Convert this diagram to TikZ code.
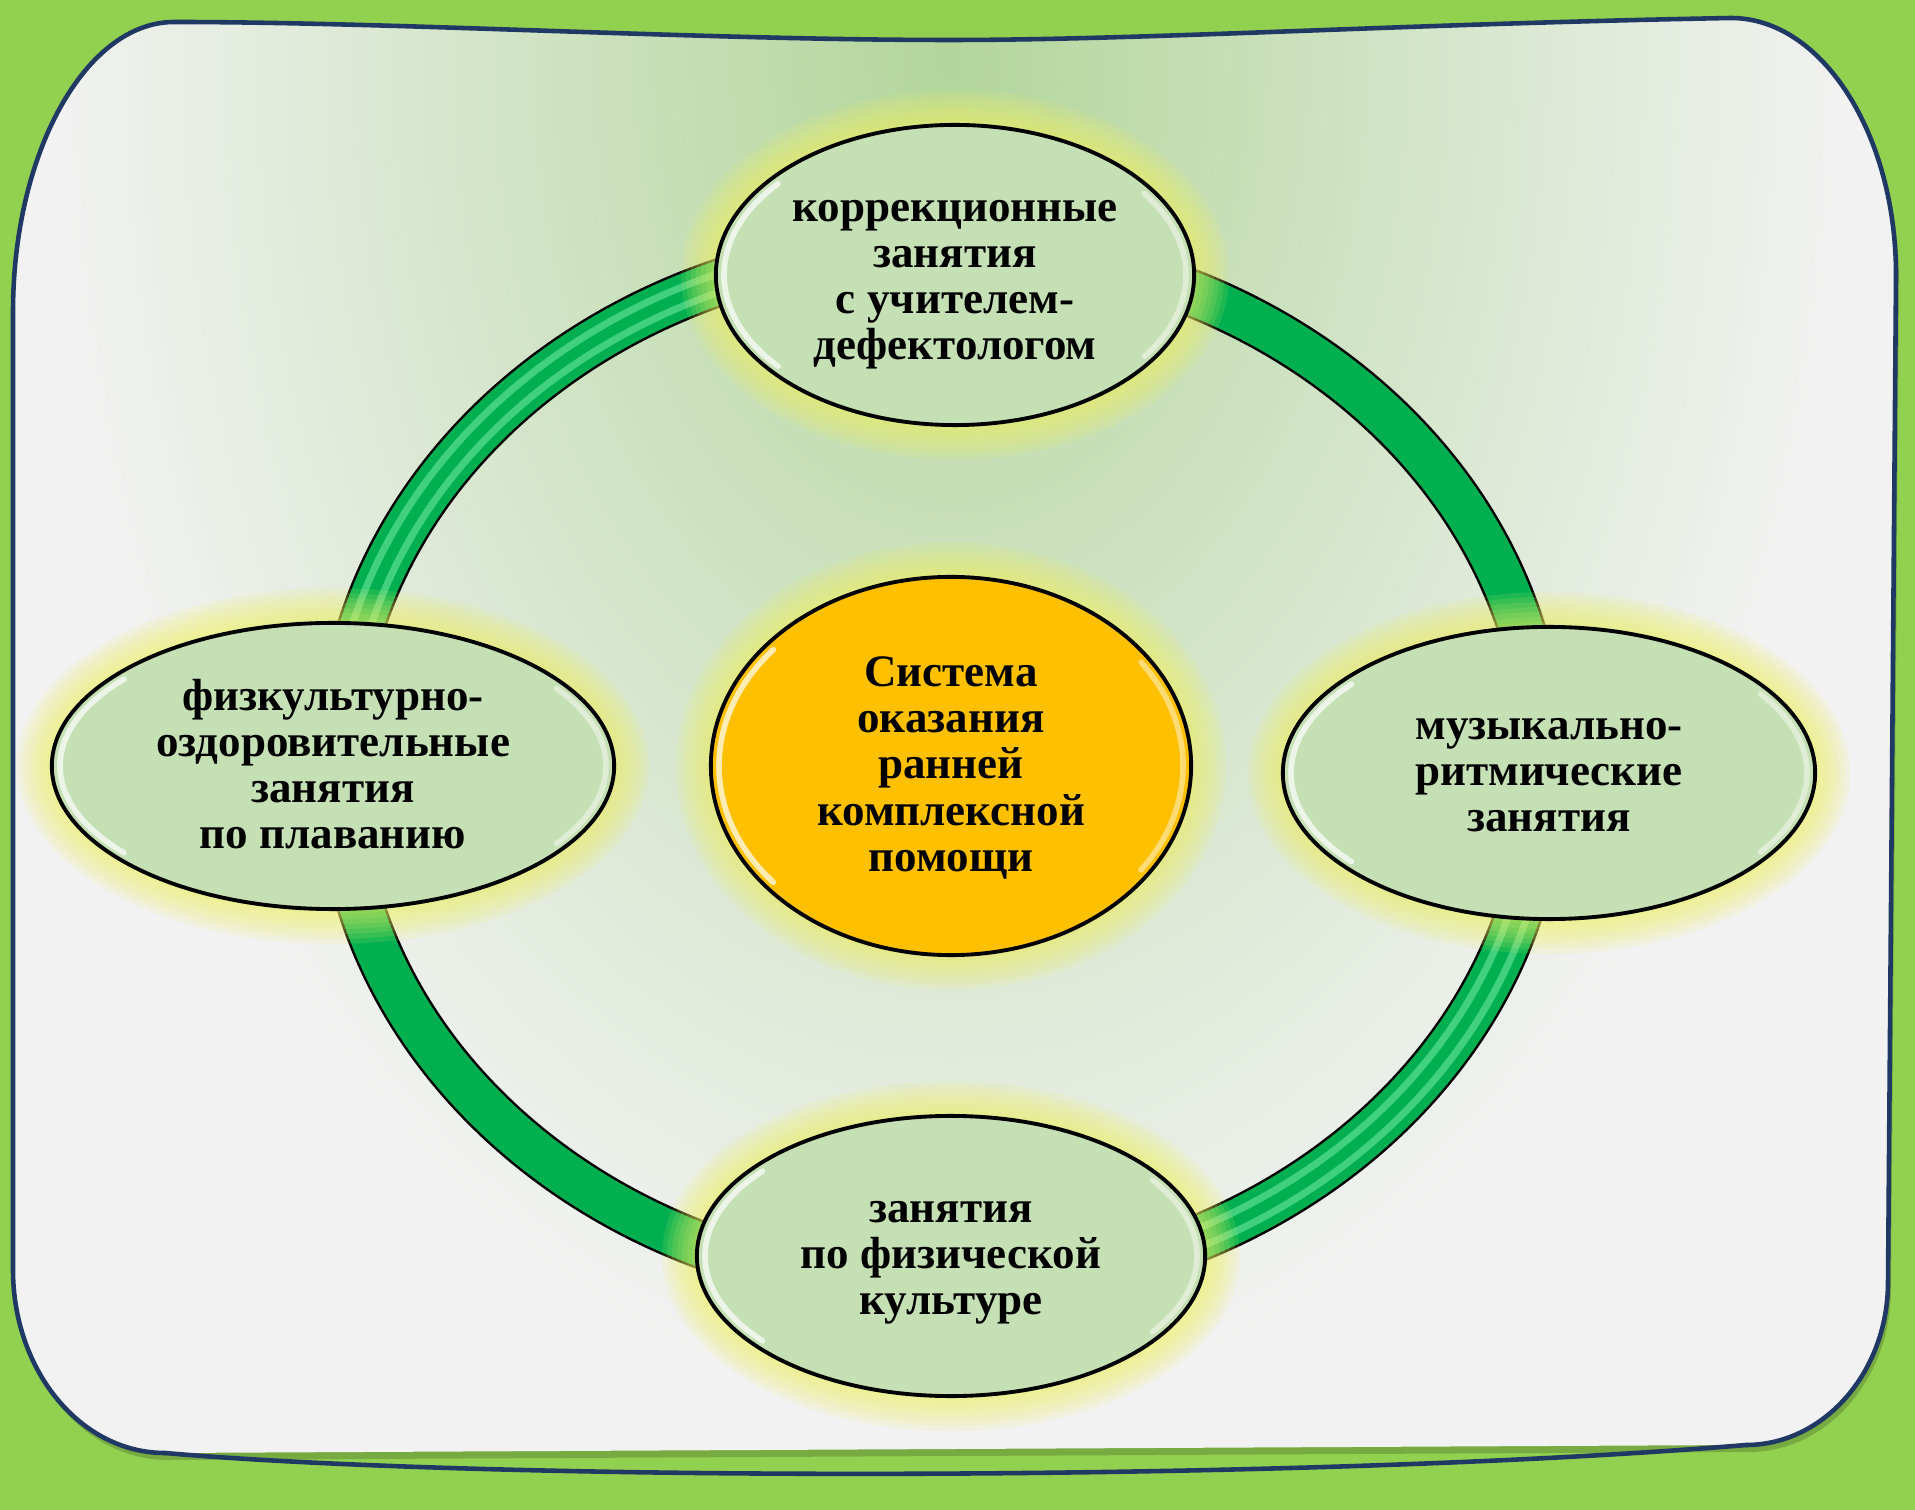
\documentclass[tikz,border=0pt]{standalone}
\usepackage{fontspec}
\setmainfont{Liberation Serif}
\usetikzlibrary{shapes.geometric}
\definecolor{bggreen}{RGB}{146,208,80}
\definecolor{framegreen}{RGB}{178,214,155}
\definecolor{framegray}{RGB}{242,242,242}
\definecolor{framenavy}{RGB}{31,56,100}
\definecolor{ringgreen}{RGB}{0,176,80}
\definecolor{ringlight}{RGB}{130,240,175}
\definecolor{blobgreen}{RGB}{197,224,180}
\definecolor{bloborange}{RGB}{255,192,0}
\definecolor{glowyellow}{RGB}{238,240,100}
\begin{document}
\begin{tikzpicture}[x=0.01cm,y=-0.01cm,line join=round,line cap=round,
	blob/.style={ellipse,draw=black,line width=1.1pt,fill=blobgreen,inner sep=0pt},
	lbl/.style={align=center,inner sep=0pt,font=\bfseries\fontsize{12.8}{13.1}\selectfont},
	glow/.style={fill=glowyellow,opacity=0.13},
	shine/.style={white,line width=1.6pt,opacity=0.7}]
		\useasboundingbox (0,0) rectangle (1915,1510);
		\fill[bggreen] (0,0) rectangle (1915,1510);
		% frame
		\def\framepath{(13,312) -- (13,1270) .. controls (13,1370) and (80,1453) .. (165,1453) -- (1746,1445) .. controls (1824,1445) and (1888,1372) .. (1888,1282) -- (1896,275) .. controls (1896,134) and (1822,18) .. (1731,18) .. controls (1400,24) and (1150,40) .. (950,40) .. controls (700,40) and (400,22) .. (174,22) .. controls (86,22) and (13,152) .. (13,312) -- cycle}
		\fill[black,opacity=0.18,shift={(3,7)}] \framepath;
		\fill[framegray] \framepath;
		\begin{scope}
			\clip \framepath;
			\shade[inner color=framegreen,outer color=framegray] (950,60) ellipse [x radius=900,y radius=1350];
		\end{scope}
		\draw[framenavy,line width=1.3pt] (165,1453) .. controls (80,1453) and (13,1370) .. (13,1270) -- (13,312) .. controls (13,152) and (86,22) .. (174,22) .. controls (400,22) and (700,40) .. (950,40) .. controls (1150,40) and (1400,24) .. (1731,18) .. controls (1822,18) and (1896,134) .. (1896,275) -- (1888,1282) .. controls (1888,1372) and (1824,1445) .. (1746,1445);
		\draw[framenavy,line width=1.3pt] (165,1453) .. controls (500,1482) and (1300,1482) .. (1746,1445);
		% ring
		\draw[black,line width=0.48cm] (941,767) ellipse [x radius=602,y radius=521];
		\draw[ringgreen,line width=0.43cm] (941,767) ellipse [x radius=602,y radius=521];
		\foreach \d in {-9,9}{
			\pgfmathsetmacro\ra{602+\d}\pgfmathsetmacro\rb{521+\d}
			\draw[ringlight,line width=2pt,opacity=0.5] (941,767) ++({\ra*cos(195)},{\rb*sin(195)}) arc[start angle=195,end angle=250,x radius=\ra,y radius=\rb];
			\draw[ringlight,line width=2pt,opacity=0.5] (941,767) ++({\ra*cos(15)},{\rb*sin(15)}) arc[start angle=15,end angle=75,x radius=\ra,y radius=\rb];
		}
		% glow
		\foreach \cx/\cy/\rx/\ry in {955/275/239/150,333/766/281/143,1549/773/266/146,951/1256/254/140,951/766/240/189}
			\foreach \k in {1,...,7}
				\fill[glow] (\cx,\cy) ellipse [x radius=\rx+5*\k,y radius=\ry+5*\k];
		% blobs
		\node[blob,minimum width=4.78cm,minimum height=3cm,
			label={[lbl,yshift=-0.1cm]center:коррекционные\\занятия\\с учителем-\\дефектологом}] (defect) at (955,275) {};
		\node[blob,minimum width=5.62cm,minimum height=2.86cm,
			label={[lbl,yshift=0.02cm]center:физкультурно-\\оздоровительные\\занятия\\по плаванию}] (swim) at (333,766) {};
		\node[blob,minimum width=5.32cm,minimum height=2.92cm,
			label={[lbl,yshift=-0.02cm]center:музыкально-\\ритмические\\занятия}] (music) at (1549,773) {};
		\node[blob,minimum width=5.08cm,minimum height=2.8cm,
			label={[lbl,yshift=-0.07cm]center:занятия\\по физической\\культуре}] (sport) at (951,1256) {};
		\node[blob,fill=bloborange,minimum width=4.8cm,minimum height=3.78cm,
			label={[lbl,yshift=-0.02cm]center:Система\\оказания\\ранней\\комплексной\\помощи}] (system) at (951,766) {};
		\foreach \n/\rx/\ry in {defect/239/150,swim/281/143,music/266/146,sport/254/140,system/240/189}{
			\pgfmathsetmacro\hx{\rx-8}\pgfmathsetmacro\hy{\ry-8}
			\draw[shine] (\n.center) ++({\hx*cos(140)},{\hy*sin(140)}) arc[start angle=140,end angle=220,x radius=\hx,y radius=\hy];
			\draw[shine,opacity=0.45] (\n.center) ++({\hx*cos(-35)},{\hy*sin(-35)}) arc[start angle=-35,end angle=35,x radius=\hx,y radius=\hy];
		}
\end{tikzpicture}
\end{document}
